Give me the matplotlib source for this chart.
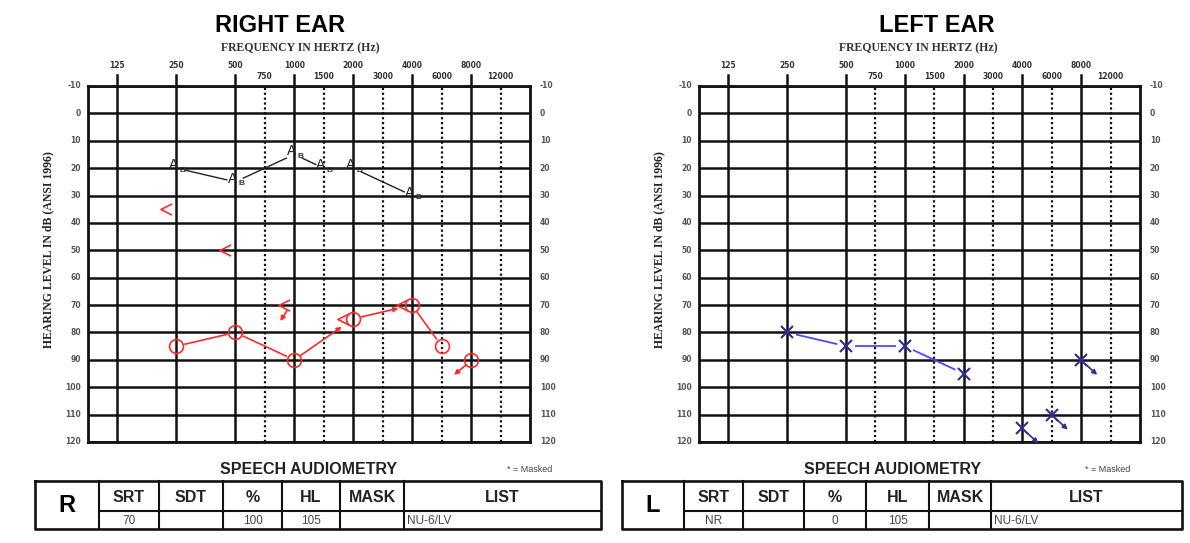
import numpy as np
import matplotlib.pyplot as plt
from matplotlib.path import Path

W, H = 1190, 543

# frequency axis
freq_ticks = [125, 250, 500, 1000, 2000, 4000, 8000]
half_ticks = [750, 1500, 3000, 6000, 12000]
db_ticks = list(range(-10, 121, 10))

# right ear
r_air_freq = [250, 500, 1000, 2000, 4000, 6000, 8000]
r_air_db = [85, 80, 90, 75, 70, 85, 90]
r_air_nr = [False, False, False, False, False, False, True]
r_bone_freq = [250, 500, 1000, 2000, 4000]
r_bone_db = [35, 50, 70, 75, 70]
r_bone_nr = [False, False, True, False, False]
r_aided_freq = [250, 500, 1000, 1500, 2000, 4000]
r_aided_db = [20, 25, 15, 20, 20, 30]

# left ear
l_air_freq = [250, 500, 1000, 2000, 4000, 6000, 8000]
l_air_db = [80, 85, 85, 95, 115, 110, 90]
l_air_nr = [False, False, False, False, True, True, True]

# speech audiometry
speech_cols = ['SRT', 'SDT', '%', 'HL', 'MASK', 'LIST']
r_speech = ['70', '', '100', '105', '', 'NU-6/LV']
l_speech = ['NR', '', '0', '105', '', 'NU-6/LV']

RED = '#ff2a2a'
BLUE_LINE = '#4a4aff'
BLUE_MARK = '#2e2e8f'
GRID = '#111111'


def xpos(f):
    if f in half_ticks:
        return np.log2(f / 1.5 / 125) + 0.5
    return np.log2(f / 125)


def off(ax, x, y, dx, dy):
    t = ax.transData
    px, py = t.transform((x, y))
    return t.inverted().transform((px + dx, py + dy))


def seg(ax, p0, p1, gap0, gap1, arrow=False, **kw):
    t = ax.transData
    a = np.array(t.transform(p0))
    b = np.array(t.transform(p1))
    u = (b - a) / np.hypot(*(b - a))
    a2, b2 = a + u * gap0, b - u * gap1
    (x0, y0), (x1, y1) = t.inverted().transform([a2, b2])
    if arrow:
        ax.annotate('', xy=(x1, y1), xytext=(x0, y0),
                    arrowprops=dict(arrowstyle='-|>', color=kw.get('color'),
                                    lw=kw.get('lw', 1), mutation_scale=7,
                                    shrinkA=0, shrinkB=0))
    else:
        ax.plot([x0, x1], [y0, y1], solid_capstyle='butt', **kw)


def nr_arrow(ax, x, y, d0, d1, color):
    x0, y0 = off(ax, x, y, *d0)
    x1, y1 = off(ax, x, y, *d1)
    ax.annotate('', xy=(x1, y1), xytext=(x0, y0), annotation_clip=False,
                arrowprops=dict(arrowstyle='-|>', color=color, lw=1.2,
                                mutation_scale=7, shrinkA=0, shrinkB=0))


def box_axes(fig, l, t, r, b):
    return fig.add_axes([l / W, 1 - b / H, (r - l) / W, (b - t) / H])


def audiogram(fig, box, title, title_x, freq_x, ylabel_x):
    ax = box_axes(fig, *box)
    ax.set_xlim(-0.5, 7)
    ax.set_ylim(120, -10)
    ax.set_xticks([])
    ax.set_yticks([])
    for s in ax.spines.values():
        s.set_linewidth(2.0)
        s.set_color(GRID)
    for d in db_ticks:
        ax.axhline(d, color=GRID, lw=1.8, zorder=1)
        ax.annotate(str(d), xy=(-0.5, d), xytext=(-5, 0), textcoords='offset points',
                    ha='right', va='center', fontsize=5.5, color='#555555',
                    fontweight='bold', annotation_clip=False)
        ax.annotate(str(d), xy=(7, d), xytext=(7, 0), textcoords='offset points',
                    ha='left', va='center', fontsize=5.5, color='#555555',
                    fontweight='bold', annotation_clip=False)
    for f in freq_ticks:
        x = xpos(f)
        ax.plot([x, x], [120, -14], color=GRID, lw=1.8, clip_on=False, zorder=1)
        ax.annotate(str(f), xy=(x, -10), xytext=(0, 14.5), textcoords='offset points',
                    ha='center', va='center', fontsize=5.5, color='#333333',
                    fontweight='bold', annotation_clip=False)
    for f in half_ticks:
        x = xpos(f)
        ax.plot([x, x], [120, -10], color=GRID, lw=1.6, ls=(0, (1, 1.2)), zorder=1)
        ax.annotate(str(f), xy=(x, -10), xytext=(0, 6.5), textcoords='offset points',
                    ha='center', va='center', fontsize=5.5, color='#333333',
                    fontweight='bold', annotation_clip=False)
    fig.text(title_x / W, 1 - 26 / H, title, ha='center', va='center',
             fontsize=17, fontweight='bold', family='Liberation Sans')
    fig.text(freq_x / W, 1 - 48 / H, 'FREQUENCY IN HERTZ (Hz)', ha='center', va='center',
             fontsize=8.5, fontweight='bold', family='Liberation Serif', color='#333333')
    fig.text(ylabel_x / W, 1 - 250 / H, 'HEARING LEVEL IN dB (ANSI 1996)', ha='center',
             va='center', rotation=90, fontsize=8.5, fontweight='bold',
             family='Liberation Serif', color='#222222')
    return ax


def speech_table(tab, bounds, letter, values, title_x, masked_x):
    top, mid, bot = 481, 511, 529
    x0, x1 = bounds[0], bounds[-1]
    tab.plot([x0, x1, x1, x0, x0], [top, top, bot, bot, top], color=GRID, lw=1.9)
    for xb in bounds[1:-1]:
        tab.plot([xb, xb], [top, bot], color=GRID, lw=1.5)
    tab.plot([bounds[1], x1], [mid, mid], color=GRID, lw=1.5)
    tab.text((bounds[0] + bounds[1]) / 2, (top + bot) / 2, letter, ha='center',
             va='center', fontsize=17, fontweight='bold', family='Liberation Sans')
    for i, (name, val) in enumerate(zip(speech_cols, values)):
        a, b = bounds[i + 1], bounds[i + 2]
        tab.text((a + b) / 2, (top + mid) / 2 + 1, name, ha='center', va='center',
                 fontsize=11.5, fontweight='bold', family='Liberation Sans', color='#222222')
        if name == 'LIST':
            tab.text(a + 3, (mid + bot) / 2 + 1, val, ha='left', va='center',
                     fontsize=8.5, family='Liberation Sans', color='#444444')
        else:
            tab.text((a + b) / 2, (mid + bot) / 2 + 1, val, ha='center', va='center',
                     fontsize=8.5, family='Liberation Sans', color='#444444')
    tab.text(title_x, 470, 'SPEECH AUDIOMETRY', ha='center', va='center',
             fontsize=11.5, fontweight='bold', family='Liberation Sans', color='#222222')
    tab.text(masked_x, 470, '* = Masked', ha='center', va='center',
             fontsize=6.5, family='Liberation Sans', color='#444444')


fig = plt.figure(figsize=(W / 100, H / 100), dpi=100)

tab = fig.add_axes([0, 0, 1, 1])
tab.set_xlim(0, W)
tab.set_ylim(H, 0)
tab.axis('off')

# ---- right ear ----
axr = audiogram(fig, (88, 86, 530, 442), 'RIGHT EAR', 280, 300, 48)

lt = Path([(1, 1), (-1, 0), (1, -1)], [Path.MOVETO, Path.LINETO, Path.LINETO])

ra_x = [xpos(f) for f in r_air_freq]
connected = [i for i in range(len(ra_x)) if not r_air_nr[i]]
for k in range(len(connected) - 1):
    i, j = connected[k], connected[k + 1]
    arrow = r_air_freq[j] in (2000, 4000)
    gap1 = 14 if arrow else 8
    seg(axr, (ra_x[i], r_air_db[i]), (ra_x[j], r_air_db[j]), 8, gap1,
        arrow=arrow, color=RED, lw=1.2)
axr.plot(ra_x, r_air_db, ls='none', marker='o', ms=10, mfc='none', mec=RED, mew=1.2, zorder=4)
for x, d, nr in zip(ra_x, r_air_db, r_air_nr):
    if nr:
        nr_arrow(axr, x, d, (-5, -5), (-17, -15), RED)

rb_x = [xpos(f) for f in r_bone_freq]
for x, d, nr in zip(rb_x, r_bone_db, r_bone_nr):
    bx, by = off(axr, x, d, -10, 0)
    axr.plot([bx], [by], ls='none', marker=lt, ms=8, mfc='none', mec=RED, mew=1.2, zorder=4)
    if nr:
        nr_arrow(axr, bx, by, (3, -5), (-4, -16), RED)

rg_x = [xpos(f) for f in r_aided_freq]
for i in range(len(rg_x) - 1):
    seg(axr, (rg_x[i], r_aided_db[i]), (rg_x[i + 1], r_aided_db[i + 1]), 8, 8,
        color='#222222', lw=1.0)
for x, d in zip(rg_x, r_aided_db):
    ax_, ay_ = off(axr, x, d, -3, 3)
    bx_, by_ = off(axr, x, d, 6, -2)
    axr.text(ax_, ay_, 'A', ha='center', va='center', fontsize=10,
             family='Liberation Sans', color='#222222', zorder=5)
    axr.text(bx_, by_, 'B', ha='center', va='center', fontsize=6, fontweight='bold',
             family='Liberation Sans', color='#333333', zorder=5)

# ---- left ear ----
axl = audiogram(fig, (699, 86, 1140, 442), 'LEFT EAR', 937, 918, 659)

la_x = [xpos(f) for f in l_air_freq]
connected = [i for i in range(len(la_x)) if not l_air_nr[i]]
for k in range(len(connected) - 1):
    i, j = connected[k], connected[k + 1]
    seg(axl, (la_x[i], l_air_db[i]), (la_x[j], l_air_db[j]), 9, 9, color=BLUE_LINE, lw=1.3)
axl.plot(la_x, l_air_db, ls='none', marker='x', ms=9, mec=BLUE_MARK, mew=1.5, zorder=4,
         clip_on=False)
for x, d, nr in zip(la_x, l_air_db, l_air_nr):
    if nr:
        nr_arrow(axl, x, d, (4, -4), (16, -15), BLUE_MARK)

# ---- speech audiometry ----
speech_table(tab, [35, 99, 159, 223, 282, 340, 404, 601], 'R', r_speech, 309, 530)
speech_table(tab, [622, 684, 743, 804, 866, 929, 991, 1182], 'L', l_speech, 893, 1108)

fig.savefig('out.png', dpi=100)
